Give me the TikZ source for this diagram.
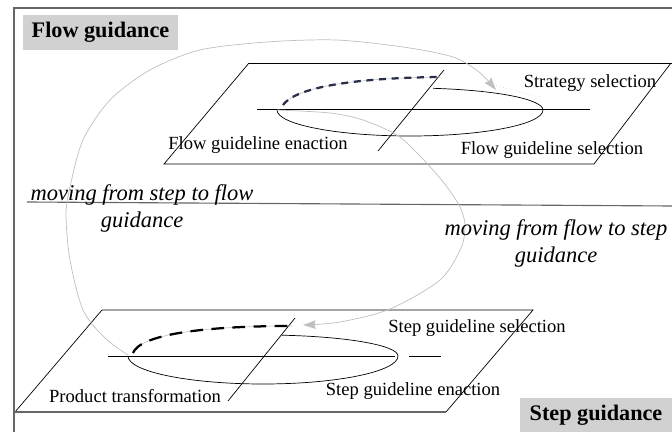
\documentclass[tikz,border=0pt]{standalone}
\usepackage{fontspec}
\setmainfont{Liberation Serif}
\usetikzlibrary{arrows.meta}
\tikzset{
	frame/.style={draw=black!60, line width=0.8pt},
	plane/.style={draw=black, line width=0.5pt},
	move/.style={draw=black!25, line width=0.5pt, -{Stealth[length=9pt,width=6pt,inset=1pt]}},
	hidden/.style={draw=black!25, line width=0.4pt},
	tag/.style={font=\fontsize{13.2}{15}\selectfont, inner sep=0pt},
	note/.style={font=\fontsize{16}{19.2}\selectfont\itshape, align=center, inner sep=0pt},
	title/.style={fill=black!18, font=\fontsize{15.8}{18}\selectfont\bfseries, inner sep=0pt, minimum height=0.86cm},
}
\begin{document}
\begin{tikzpicture}[x=0.025cm, y=-0.025cm]
	\useasboundingbox (0,0) rectangle (672,432);
	\draw [frame] (14,432) -- (14,8) -- (672,8);
	\draw [frame] (27,202) -- (672,206);
	\node [title, minimum width=3.875cm] (flowtitle) at (100.5,32.5) {Flow guidance};
	\node [title, minimum width=3.8cm] (steptitle) at (596,415.5) {Step guidance};

	\draw [plane] (249,63) -- (672,63);
	\draw [plane] (671,63) -- (594,164) -- (164,164) -- (249,63);
	\draw [plane] (257,109) -- (590,109);
	\draw [plane] (277,110) arc[start angle=180, end angle=0, x radius=133, y radius=26];
	\draw [plane] (543,110) arc[start angle=0, end angle=-80, x radius=133, y radius=22];
	\draw [plane] (444,70) -- (378,151);
	\draw [hidden] (283,105) .. controls (295,88) and (350,78) .. (440,77);
	\draw [draw={rgb,255:red,40;green,45;blue,75}, line width=1.6pt, dash pattern=on 5pt off 4pt] (283,105) .. controls (295,88) and (350,78) .. (440,77);
	\draw [hidden, dotted] (490,84) -- (540,97);

	\draw [plane] (102,310) -- (533,310) -- (446,412);
	\draw [plane] (102,310) -- (15,412);
	\draw [frame] (15,412) -- (446,412);
	\draw [plane] (108,356) -- (395,356);
	\draw [plane] (409,356) -- (441,356);
	\draw [plane] (128,356) arc[start angle=180, end angle=0, x radius=135, y radius=28];
	\draw [plane] (398,356) arc[start angle=0, end angle=-82, x radius=135, y radius=21];
	\draw [plane] (295,318) -- (228,401);
	\draw [hidden] (133,353) .. controls (140,335) and (200,326) .. (292,326);
	\draw [black, line width=1.6pt, dash pattern=on 9pt off 6pt] (133,353) .. controls (140,335) and (200,326) .. (292,326);

	\coordinate (flowend) at (277,110);
	\coordinate (stepend) at (128,355);
	\draw [move] plot[smooth] coordinates {(stepend) (105,338) (83,310) (70,260) (66,215) (70,187) (83,140) (110,100) (150,70) (200,50) (267,42) (336,40) (403,47) (453,57) (479,72) (496,90)};
	\draw [move] plot[smooth] coordinates {(flowend) (330,113) (363,120) (397,135) (417,153) (433,170) (447,187) (460,207) (465,225) (461,248) (440,280) (390,309) (340,322) (303,325)};

	\node [tag] (strategy) at (590,83) {Strategy selection};
	\node [tag] (flowsel) at (552,150) {Flow guideline selection};
	\node [tag] (flowenact) at (258,145) {Flow guideline enaction};
	\node [tag] (stepsel) at (477,328) {Step guideline selection};
	\node [tag] (stepenact) at (413,391) {Step guideline enaction};
	\node [tag] (product) at (135,396) {Product transformation};
	\node [note] (uptoflow) at (142,208) {moving from step to flow\\guidance};
	\node [note] (downtostep) at (556,243) {moving from flow to step\\guidance};
\end{tikzpicture}
\end{document}
